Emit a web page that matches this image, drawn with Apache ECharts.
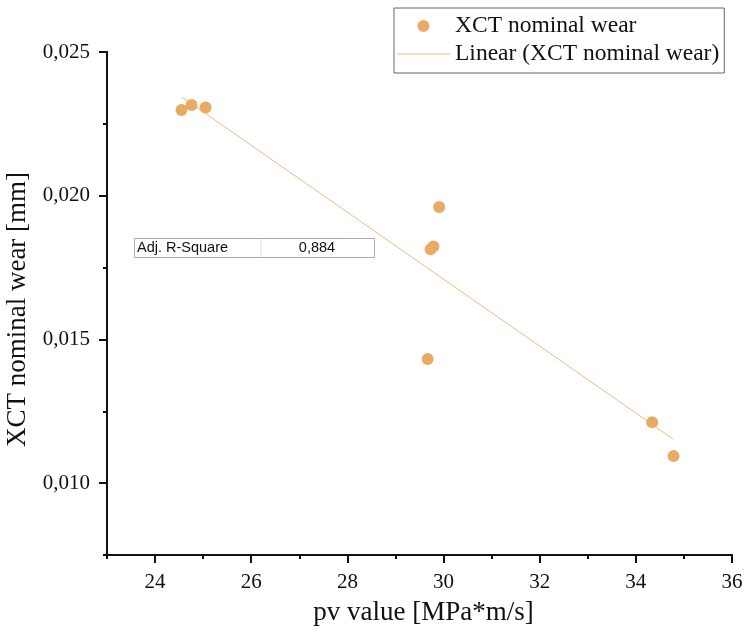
<!DOCTYPE html>
<html>
<head>
<meta charset="utf-8">
<script src="https://cdn.jsdelivr.net/npm/echarts@6/dist/echarts.min.js"></script>
<style>html,body{margin:0;padding:0;background:#fff;}#c{width:745px;height:639px;}</style>
</head>
<body>
<div id="c"></div>
<script>
// ---- data ----
const pvValues   = [24.55, 24.76, 25.05, 29.91, 29.79, 29.73, 29.67, 34.34, 34.785];
const wearValues = [0.02298, 0.02316, 0.02307, 0.01961, 0.01823, 0.01814, 0.01432, 0.01212, 0.01094];
const fitX = [24.56, 34.78];
const fitY = [0.02343, 0.01153];
const adjRSquareLabel = 'Adj. R-Square';
const adjRSquareValue = '0,884';
const xMajorTicks = [24, 26, 28, 30, 32, 34, 36];
const xMinorTicks = [23, 25, 27, 29, 31, 33, 35];
const yMajorTicks = [0.010, 0.015, 0.020, 0.025];
const yMinorTicks = [0.0075, 0.0125, 0.0175, 0.0225];
const seriesName = 'XCT nominal wear';
const fitName = 'Linear (XCT nominal wear)';

const scatterData = pvValues.map((x, i) => [x, wearValues[i]]);
const fitData = fitX.map((x, i) => [x, fitY[i]]);

const serif = 'Liberation Serif, Times New Roman, serif';
const markerColor = '#E9AA64';
const fitColor = '#F1BA80';

const chart = echarts.init(document.getElementById('c'), null, {renderer: 'canvas'});
const baseX = {
  type: 'value', min: 23, max: 36, position: 'bottom', gridIndex: 0,
  splitLine: {show: false},
  axisLine: {show: true, onZero: false, lineStyle: {color: '#111', width: 2}}
};
const baseY = {
  type: 'value', min: 0.0075, max: 0.025, position: 'left', gridIndex: 0,
  splitLine: {show: false},
  axisLine: {show: true, onZero: false, lineStyle: {color: '#111', width: 2}}
};
chart.setOption({
  animation: false,
  backgroundColor: '#fff',
  grid: {left: 107, right: 13, top: 52, bottom: 84, containLabel: false, outerBoundsMode: 'none'},
  legend: {
    orient: 'vertical', left: 394, top: 8,
    padding: [6, 5, 7, 3], itemGap: 4,
    itemWidth: 53, itemHeight: 12,
    symbolKeepAspect: true,
    borderColor: '#666', borderWidth: 1,
    textStyle: {fontFamily: serif, fontSize: 23.5, color: '#111'},
    data: [
      {name: seriesName, icon: 'circle'},
      {name: fitName, icon: 'path://M0,0H53V1H0Z', itemStyle: {color: fitColor}}
    ]
  },
  xAxis: [
    Object.assign({}, baseX, {
      name: 'pv value [MPa*m/s]', nameLocation: 'middle', nameGap: 44,
      nameTextStyle: {fontFamily: serif, fontSize: 27, color: '#111', padding: [0, 0, 0, 8]},
      axisTick: {show: true, customValues: xMajorTicks, length: 8, lineStyle: {color: '#111', width: 2}},
      axisLabel: {customValues: xMajorTicks, margin: 17, fontFamily: serif, fontSize: 21, color: '#111'}
    }),
    Object.assign({}, baseX, {
      axisTick: {show: true, customValues: xMinorTicks, length: 4, lineStyle: {color: '#111', width: 2}},
      axisLabel: {show: false}
    })
  ],
  yAxis: [
    Object.assign({}, baseY, {
      name: 'XCT nominal wear [mm]', nameLocation: 'middle', nameGap: 57, nameRotate: 90,
      nameTextStyle: {fontFamily: serif, fontSize: 27, color: '#111', padding: [0, 12, 0, 0]},
      axisTick: {show: true, customValues: yMajorTicks, length: 8, lineStyle: {color: '#111', width: 2}},
      axisLabel: {customValues: yMajorTicks, margin: 17, fontFamily: serif, fontSize: 21, color: '#111',
        formatter: v => v.toFixed(3).replace('.', ',')}
    }),
    Object.assign({}, baseY, {
      axisTick: {show: true, customValues: yMinorTicks, length: 4, lineStyle: {color: '#111', width: 2}},
      axisLabel: {show: false}
    })
  ],
  series: [
    {
      name: fitName, type: 'line', xAxisIndex: 0, yAxisIndex: 0,
      data: fitData, symbol: 'none', showSymbol: false,
      lineStyle: {color: fitColor, width: 1}, itemStyle: {color: fitColor}, z: 2
    },
    {
      name: seriesName, type: 'scatter', xAxisIndex: 0, yAxisIndex: 0,
      data: scatterData, symbol: 'circle', symbolSize: 12,
      itemStyle: {color: markerColor, opacity: 1}, z: 3
    }
  ],
  graphic: [
    {type: 'rect', left: 134, top: 238, shape: {width: 240, height: 19},
      style: {fill: '#fff', stroke: '#aaa', lineWidth: 1}, z: 10},
    {type: 'line', shape: {x1: 261, y1: 239, x2: 261, y2: 257},
      style: {stroke: '#ddd', lineWidth: 1}, z: 11},
    {type: 'text', x: 137, y: 248,
      style: {text: adjRSquareLabel, font: '14.5px Liberation Sans, Arial, sans-serif', fill: '#111', verticalAlign: 'middle'}, z: 11},
    {type: 'text', x: 317, y: 248,
      style: {text: adjRSquareValue, font: '14.5px Liberation Sans, Arial, sans-serif', fill: '#111', align: 'center', verticalAlign: 'middle'}, z: 11}
  ]
});
</script>
</body>
</html>
